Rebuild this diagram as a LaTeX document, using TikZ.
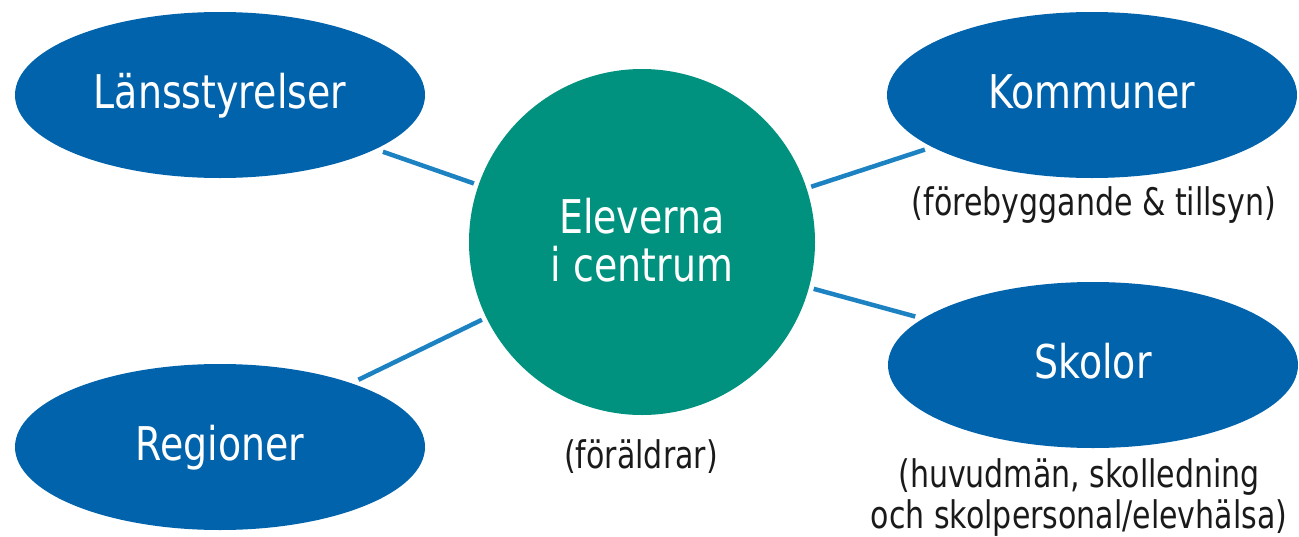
\documentclass[tikz,border=0pt]{standalone}
\usepackage{fontspec}
\usetikzlibrary{shapes.geometric}
\newfontfamily\mainlbl[FakeStretch=0.815]{DejaVu Sans}
\newfontfamily\sublbl[FakeStretch=0.79]{DejaVu Sans}
\definecolor{ovalblue}{HTML}{0063AC}
\definecolor{hubteal}{HTML}{00927F}
\definecolor{linkblue}{HTML}{1C82C2}
\definecolor{subgray}{HTML}{1A1A1A}
\tikzset{
  oval/.style={ellipse, fill=ovalblue, draw=none, inner sep=0pt, outer sep=0pt,
    minimum width=410pt, minimum height=166pt, text=white,
    font=\mainlbl\fontsize{46.5}{48}\selectfont, text height=34pt, text depth=7pt},
  hub/.style={circle, fill=hubteal, draw=none, inner sep=0pt, outer sep=0pt,
    minimum size=346pt},
  hubtext/.style={text=white, align=center, inner sep=0pt,
    font=\mainlbl\fontsize{46.5}{48}\selectfont},
  note/.style={text=subgray, align=center, inner sep=0pt,
    font=\sublbl\fontsize{38}{41}\selectfont},
  link/.style={draw=linkblue, line width=4.5pt, shorten <=8pt, shorten >=5pt}
}
\begin{document}
\begin{tikzpicture}[x=1pt, y=-1pt]
\useasboundingbox (0,0) rectangle (1299,536);
\node[hub] (hub) at (642,242) {};
\node[hubtext, anchor=base] (hubtxt) at (642,281) {Eleverna\\i centrum};
\node[oval] (lans) at (220,95) {Länsstyrelser};
\node[oval] (komm) at (1092,95) {Kommuner};
\node[oval] (skol) at (1093,365) {Skolor};
\node[oval] (regi) at (220,447) {Regioner};
\node[note, anchor=base] (kommnote) at (1094,215) {(förebyggande \& tillsyn)};
\node[note, anchor=base] (hubnote) at (641,468) {(föräldrar)};
\node[note, anchor=base] (skolnote) at (1079,528) {(huvudmän, skolledning\\och skolpersonal/elevhälsa)};
\draw[link] (lans) -- (hub);
\draw[link] (komm) -- (hub);
\draw[link] (skol) -- (hub);
\draw[link] (regi) -- (hub);
\end{tikzpicture}
\end{document}
